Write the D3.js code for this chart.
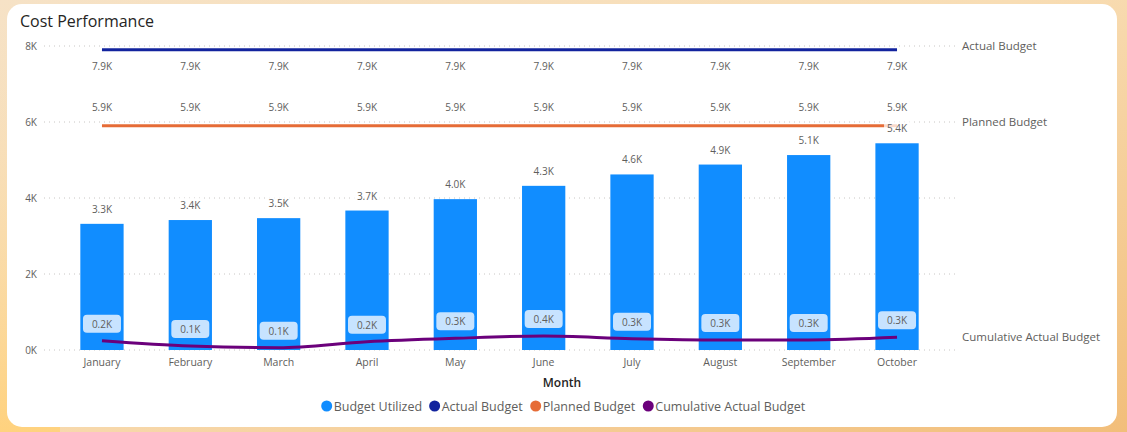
<!DOCTYPE html>
<html>
<head>
<meta charset="utf-8">
<script src="https://cdn.jsdelivr.net/npm/d3@7"></script>
<style>
  html, body { margin: 0; padding: 0; }
  body { width: 1127px; height: 432px; overflow: hidden; }
  svg text { font-family: "Open Sans", "Noto Sans", sans-serif; }
</style>
</head>
<body>
<svg id="chart"></svg>
<script>
(function () {
  // Data
  var months = ['January', 'February', 'March', 'April', 'May', 'June', 'July', 'August', 'September', 'October']
  var budgetUtilized = [3320, 3420, 3470, 3670, 3970, 4320, 4620, 4880, 5130, 5440]
  var actualBudget = [7900, 7900, 7900, 7900, 7900, 7900, 7900, 7900, 7900, 7900]
  var plannedBudget = [5900, 5900, 5900, 5900, 5900, 5900, 5900, 5900, 5900, 5900]
  var cumulativeActual = [245, 105, 60, 218, 308, 368, 297, 263, 265, 334]
  var yTicks = [0, 2000, 4000, 6000, 8000]
  var seriesNames = ['Budget Utilized', 'Actual Budget', 'Planned Budget', 'Cumulative Actual Budget']

  var WIDTH = 1127
  var HEIGHT = 432
  var COLORS = ['#118DFF', '#12239E', '#E66C37', '#6B007B']
  var TEXT_GRAY = '#605E5C'

  var rows = months.map(function (m, i) {
    return { month: m, util: budgetUtilized[i], actual: actualBudget[i], planned: plannedBudget[i], cum: cumulativeActual[i] }
  })

  var svg = d3.select('#chart').attr('width', WIDTH).attr('height', HEIGHT)

  // background + card
  var defs = svg.append('defs')
  var grad = defs.append('linearGradient').attr('id', 'bg')
    .attr('x1', '0%').attr('y1', '0%').attr('x2', '100%').attr('y2', '100%')
  grad.append('stop').attr('offset', '0%').attr('stop-color', '#F6E2C6')
  grad.append('stop').attr('offset', '45%').attr('stop-color', '#F8DDB4')
  grad.append('stop').attr('offset', '100%').attr('stop-color', '#F2BE7A')
  var grad2 = defs.append('linearGradient').attr('id', 'bgl')
    .attr('x1', '0%').attr('y1', '0%').attr('x2', '0%').attr('y2', '100%')
  grad2.append('stop').attr('offset', '0%').attr('stop-color', '#F6E2C6').attr('stop-opacity', 0)
  grad2.append('stop').attr('offset', '100%').attr('stop-color', '#FFD27E').attr('stop-opacity', 1)

  svg.append('rect').attr('width', WIDTH).attr('height', HEIGHT).attr('fill', 'url(#bg)')
  svg.append('rect').attr('width', 60).attr('height', HEIGHT).attr('fill', 'url(#bgl)')
  svg.append('rect')
    .attr('x', 7).attr('y', 4).attr('width', 1110).attr('height', 423)
    .attr('rx', 15).attr('ry', 15)
    .attr('fill', '#fff')

  svg.append('text')
    .attr('x', 20).attr('y', 27)
    .attr('font-size', 16).attr('fill', '#252423')
    .text('Cost Performance')

  // Scales
  var x = d3.scaleBand().domain(months).range([57.8, 941.2])
    .paddingInner(0.51).paddingOuter(0.255)
  var y = d3.scaleLinear().domain([0, 8000]).range([350, 46])
  var cx = function (d) { return x(d.month) + x.bandwidth() / 2 }
  var fmtK = function (v) { return (v / 1000).toFixed(1) + 'K' }

  var g = svg.append('g')

  // Grid
  g.append('g').selectAll('line')
    .data(yTicks)
    .enter().append('line')
    .attr('x1', 44).attr('x2', 955)
    .attr('y1', function (d) { return y(d) }).attr('y2', function (d) { return y(d) })
    .attr('stroke', '#C8C6C4').attr('stroke-width', 1)
    .attr('stroke-dasharray', '1,4')

  // Y axis labels
  g.append('g').selectAll('text')
    .data(yTicks)
    .enter().append('text')
    .attr('x', 37).attr('y', function (d) { return y(d) + 4 })
    .attr('text-anchor', 'end')
    .attr('font-size', 10).attr('fill', TEXT_GRAY)
    .text(function (d) { return (d / 1000) + 'K' })

  // Bars
  g.append('g').selectAll('rect')
    .data(rows)
    .enter().append('rect')
    .attr('x', function (d) { return x(d.month) })
    .attr('y', function (d) { return y(d.util) })
    .attr('width', x.bandwidth())
    .attr('height', function (d) { return y(0) - y(d.util) })
    .attr('fill', COLORS[0])

  // Lines
  var lineOf = function (key, curve) {
    return d3.line()
      .x(cx)
      .y(function (d) { return y(d[key]) })
      .curve(curve || d3.curveLinear)
  }
  g.append('path').datum(rows)
    .attr('d', lineOf('actual'))
    .attr('fill', 'none').attr('stroke', COLORS[1]).attr('stroke-width', 3)
  g.append('path').datum(rows)
    .attr('d', lineOf('planned'))
    .attr('fill', 'none').attr('stroke', COLORS[2]).attr('stroke-width', 3)
  g.append('path').datum(rows)
    .attr('d', lineOf('cum', d3.curveMonotoneX))
    .attr('fill', 'none').attr('stroke', COLORS[3]).attr('stroke-width', 3)

  // Data labels
  var labelLayer = g.append('g').attr('font-size', 10).attr('fill', TEXT_GRAY)

  labelLayer.selectAll('.lbl-actual')
    .data(rows).enter().append('text')
    .attr('class', 'lbl-actual')
    .attr('x', cx).attr('y', function (d) { return y(d.actual) + 20 })
    .attr('text-anchor', 'middle').attr('fill', TEXT_GRAY)
    .text(function (d) { return fmtK(d.actual) })

  labelLayer.selectAll('.lbl-planned')
    .data(rows).enter().append('text')
    .attr('class', 'lbl-planned')
    .attr('x', cx).attr('y', function (d) { return y(d.planned) - 15 })
    .attr('text-anchor', 'middle').attr('fill', TEXT_GRAY)
    .text(function (d) { return fmtK(d.planned) })

  var barLbl = labelLayer.selectAll('.lbl-bar')
    .data(rows).enter().append('g')
    .attr('class', 'lbl-bar')
    .attr('transform', function (d) { return 'translate(' + cx(d) + ',' + (y(d.util) - 15) + ')' })
  barLbl.append('rect')
    .attr('x', -13).attr('y', -7).attr('width', 26).attr('height', 13)
    .attr('fill', '#fff').attr('opacity', 0.75)
  barLbl.append('text')
    .attr('y', 4).attr('text-anchor', 'middle').attr('fill', TEXT_GRAY)
    .text(function (d) { return fmtK(d.util) })

  var cumLbl = labelLayer.selectAll('.lbl-cum')
    .data(rows).enter().append('g')
    .attr('class', 'lbl-cum')
    .attr('transform', function (d) { return 'translate(' + cx(d) + ',' + (y(d.cum) - 17) + ')' })
  cumLbl.append('rect')
    .attr('x', -19).attr('y', -9).attr('width', 38).attr('height', 18)
    .attr('rx', 4).attr('ry', 4)
    .attr('fill', '#C7E3FF')
  cumLbl.append('text')
    .attr('y', 4).attr('text-anchor', 'middle').attr('fill', TEXT_GRAY)
    .text(function (d) { return fmtK(d.cum) })

  // Series end labels
  var last = rows[rows.length - 1]
  var endLabels = [
    { name: seriesNames[1], v: 8000 },
    { name: seriesNames[2], v: 6000 },
    { name: seriesNames[3], v: last.cum }
  ]
  g.append('g').selectAll('text')
    .data(endLabels).enter().append('text')
    .attr('x', 962).attr('y', function (d) { return y(d.v) + 4 })
    .attr('font-size', 11.5).attr('fill', TEXT_GRAY)
    .text(function (d) { return d.name })

  // X axis labels
  g.append('g').selectAll('text')
    .data(rows).enter().append('text')
    .attr('x', cx).attr('y', 366)
    .attr('text-anchor', 'middle')
    .attr('font-size', 10.5).attr('fill', TEXT_GRAY)
    .text(function (d) { return d.month })

  svg.append('text')
    .attr('x', 562).attr('y', 387)
    .attr('text-anchor', 'middle')
    .attr('font-size', 12).attr('font-weight', 600).attr('fill', '#252423')
    .text('Month')

  // Legend
  var legend = svg.append('g').attr('font-size', 12.5)
  var items = legend.selectAll('g')
    .data(seriesNames).enter().append('g')
  items.append('circle').attr('r', 5.5).attr('cy', 0)
    .attr('fill', function (d, i) { return COLORS[i] })
  items.append('text').attr('x', 7).attr('y', 4.5)
    .attr('fill', TEXT_GRAY)
    .text(function (d) { return d })
  var offs = 0
  var positions = []
  items.each(function () {
    positions.push(offs)
    offs += this.getBBox().width + 7
  })
  var startX = 564 - (offs - 7) / 2 + 5
  items.attr('transform', function (d, i) { return 'translate(' + (startX + positions[i]) + ',406)' })
})()
</script>
</body>
</html>
